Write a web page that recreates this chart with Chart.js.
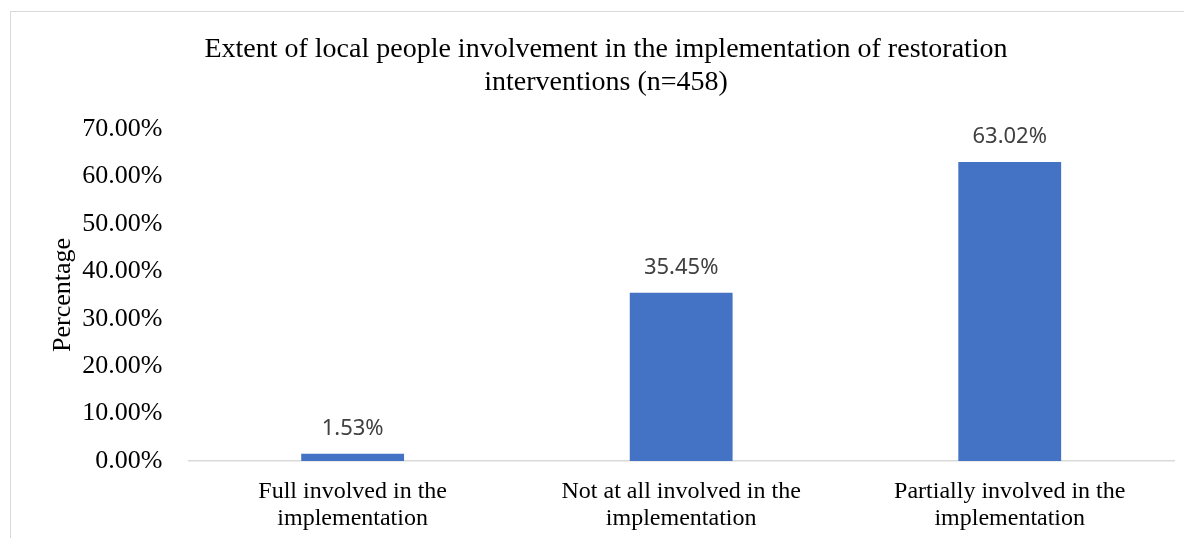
<!DOCTYPE html>
<html>
<head>
<meta charset="utf-8">
<script src="https://cdn.jsdelivr.net/npm/chart.js@4/dist/chart.umd.min.js"></script>
<style>
  html, body { margin: 0; padding: 0; overflow: hidden; background: #fff; }
  #box { position: absolute; left: 10px; top: 11px; width: 1194px; height: 560px; border: 1px solid #d9d9d9; box-sizing: border-box; }
  #chart { display: block; }
</style>
</head>
<body>
<div id="box"><canvas id="chart" width="1192" height="558"></canvas></div>
<script>
const categories = [
    ["Full involved in the", "implementation"],
    ["Not at all involved in the", "implementation"],
    ["Partially involved in the", "implementation"]
];
const percentages = [1.53, 35.45, 63.02];
const titleLines = ["Extent of local people involvement in the implementation of restoration", "interventions (n=458)"];

// draws the value above each bar (no datalabels plugin offline)
const barLabels = {
    id: "barLabels",
    afterDatasetsDraw(chart) {
        const ctx = chart.ctx;
        const meta = chart.getDatasetMeta(0);
        ctx.save();
        ctx.font = "22px 'Noto Sans'";
        ctx.fillStyle = "#404040";
        ctx.textAlign = "center";
        ctx.textBaseline = "middle";
        meta.data.forEach((bar, i) => {
            ctx.fillText(percentages[i].toFixed(2) + "%", bar.x, bar.y - 25);
        });
        ctx.restore();
    }
};

new Chart(document.getElementById("chart"), {
    type: "bar",
    data: {
        labels: categories,
        datasets: [{
            data: percentages,
            backgroundColor: "#4472C4",
            categoryPercentage: 1,
            barPercentage: 0.313
        }]
    },
    options: {
        responsive: false,
        animation: false,
        layout: { padding: { left: 27, right: 29, bottom: 21, top: 0 } },
        plugins: {
            legend: { display: false },
            tooltip: { enabled: false },
            title: {
                display: true,
                text: titleLines,
                color: "#000",
                font: { family: "'Liberation Serif'", size: 28, weight: "normal", lineHeight: 1.18 },
                padding: { top: 21.5, bottom: 29.4 }
            }
        },
        scales: {
            x: {
                grid: { display: false, drawTicks: false },
                border: { color: "#d9d9d9", width: 1.5 },
                ticks: {
                    color: "#000",
                    padding: 17,
                    maxRotation: 0,
                    font: { family: "'Liberation Serif'", size: 24, lineHeight: 1.125 }
                }
            },
            y: {
                min: 0,
                max: 70,
                grid: { display: false, drawTicks: false },
                border: { display: false },
                ticks: {
                    stepSize: 10,
                    color: "#000",
                    padding: 26,
                    font: { family: "'Liberation Serif'", size: 26 },
                    callback: (v) => v.toFixed(2) + "%"
                },
                title: {
                    display: true,
                    text: "Percentage",
                    color: "#000",
                    font: { family: "'Liberation Serif'", size: 26, lineHeight: 1.2 },
                    padding: { top: 10, bottom: -23 }
                }
            }
        }
    },
    plugins: [barLabels]
});
</script>
</body>
</html>
